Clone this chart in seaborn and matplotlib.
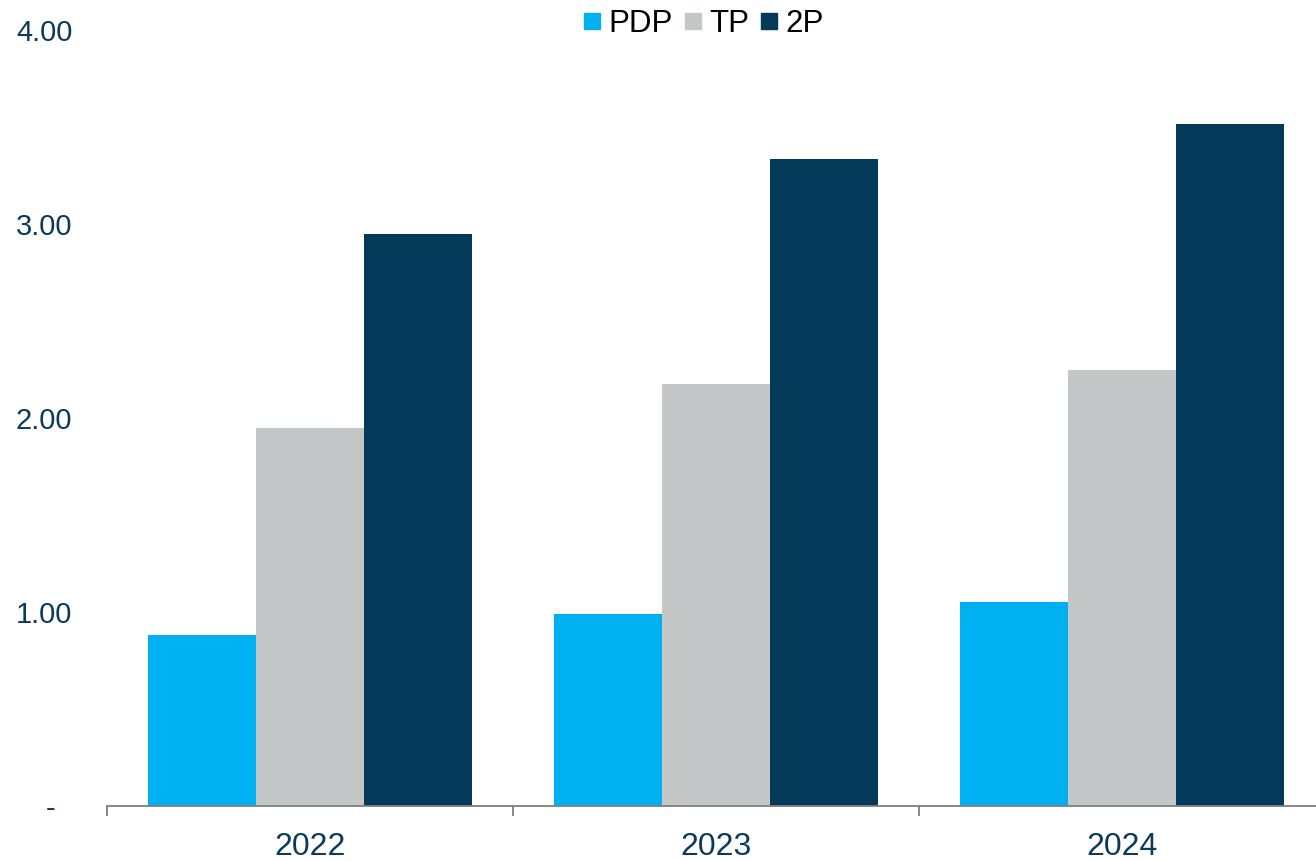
"""Grouped bar chart of PDP / TP / 2P by year."""
import matplotlib.pyplot as plt
import numpy as np
import pandas as pd
import seaborn as sns
from matplotlib.lines import Line2D
from matplotlib.ticker import FixedLocator

years = ["2022", "2023", "2024"]
series = ["PDP", "TP", "2P"]
pdp = [0.88, 0.99, 1.05]
tp = [1.95, 2.175, 2.245]
two_p = [2.95, 3.335, 3.515]
colors = ["#00B0F0", "#C4C7C8", "#033A5A"]
ytick_vals = [0, 1, 2, 3, 4]
ytick_labels = ["-  ", "1.00", "2.00", "3.00", "4.00"]

df = pd.DataFrame({
    "Year": years * 3,
    "Series": [s for s in series for _ in years],
    "Value": pdp + tp + two_p,
})

sns.set_style("white")
plt.rcParams["font.family"] = ["Liberation Sans", "DejaVu Sans"]
label_color = "#0B3A5A"

fig = plt.figure(figsize=(13.16, 8.61), dpi=100)
ax = fig.add_axes([107 / 1316, 55 / 861, 1218 / 1316, 776 / 861])

sns.barplot(data=df, x="Year", y="Value", hue="Series", palette=colors,
            width=0.8, gap=0, saturation=1, linewidth=0, ax=ax, legend=False)

ax.set_xlim(-0.5, 2.5)
ax.set_ylim(0, 4)
ax.set_xlabel("")
ax.set_ylabel("")
for side in ["top", "right", "left"]:
    ax.spines[side].set_visible(False)
ax.spines["bottom"].set_color("#7F7F7F")
ax.spines["bottom"].set_linewidth(1.3)

ax.set_yticks(ytick_vals)
ax.set_yticklabels(ytick_labels)
ax.tick_params(axis="y", length=0, pad=25, labelsize=21, labelcolor=label_color)
ax.tick_params(axis="x", which="major", length=0, pad=19, labelsize=23,
               labelcolor=label_color)
ax.xaxis.set_minor_locator(FixedLocator(np.arange(-0.5, 2.6, 1.0)))
ax.tick_params(axis="x", which="minor", bottom=True, length=7, width=1.3,
               color="#7F7F7F", direction="out")

handles = [Line2D([], [], marker="s", linestyle="none", markersize=12,
                  markerfacecolor=c, markeredgecolor=c) for c in colors]
fig.legend(handles, series, loc="center", bbox_to_anchor=(702 / 1316, 1 - 24 / 861),
           ncol=3, frameon=False, fontsize=22.5, handletextpad=0.15,
           columnspacing=0.25, handlelength=0.75, borderaxespad=0,
           labelcolor="black")

fig.savefig("out.png", dpi=100)
